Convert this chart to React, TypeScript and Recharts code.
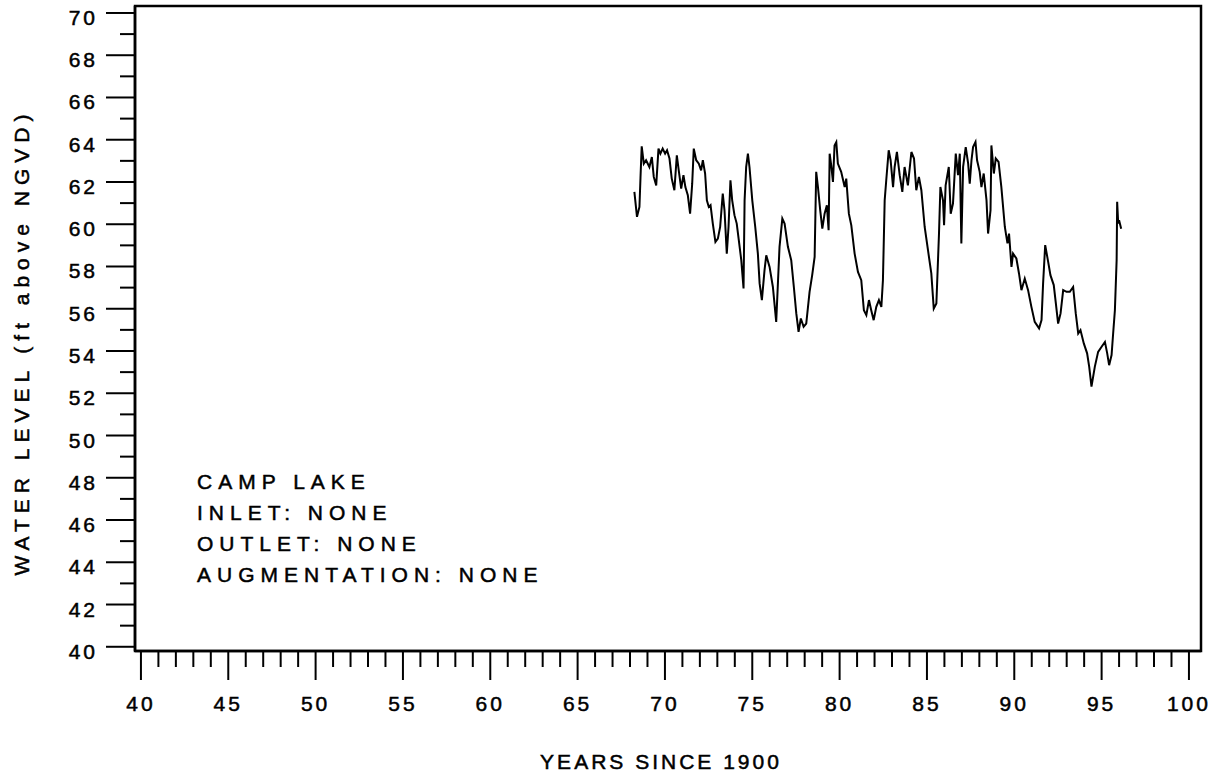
import React from "react";
import { LineChart, Line, XAxis, YAxis, ReferenceArea } from "recharts";

const YEARS = [
  68.25, 68.4, 68.54, 68.6, 68.67, 68.79, 68.92, 69.11, 69.25, 69.36, 69.5, 69.63, 69.74, 69.87,
  70.01, 70.12, 70.26, 70.39, 70.54, 70.68, 70.79, 70.93, 71.06, 71.17, 71.31, 71.44, 71.56, 71.65,
  71.79, 71.94, 72.07, 72.17, 72.3, 72.4, 72.51, 72.61, 72.74, 72.89, 73.03, 73.16, 73.31, 73.41,
  73.54, 73.64, 73.75, 73.85, 73.98, 74.11, 74.23, 74.37, 74.5, 74.56, 74.65, 74.75, 74.84, 75.0,
  75.17, 75.32, 75.42, 75.55, 75.7, 75.8, 75.99, 76.18, 76.37, 76.56, 76.72, 76.85, 77.04, 77.23,
  77.38, 77.52, 77.65, 77.78, 77.94, 78.09, 78.28, 78.43, 78.57, 78.66, 78.76, 78.89, 79.01, 79.14,
  79.27, 79.37, 79.43, 79.52, 79.62, 79.71, 79.81, 79.9, 80.09, 80.29, 80.38, 80.53, 80.67, 80.86,
  81.05, 81.24, 81.39, 81.53, 81.68, 81.81, 81.95, 82.1, 82.25, 82.39, 82.48, 82.58, 82.67, 82.81,
  82.92, 83.06, 83.15, 83.28, 83.44, 83.59, 83.72, 83.91, 84.11, 84.26, 84.39, 84.54, 84.68, 84.87,
  85.06, 85.25, 85.39, 85.54, 85.69, 85.77, 85.92, 85.98, 86.07, 86.25, 86.36, 86.49, 86.65, 86.78,
  86.88, 86.97, 87.07, 87.22, 87.36, 87.45, 87.55, 87.64, 87.78, 87.87, 88.02, 88.12, 88.25, 88.41,
  88.5, 88.64, 88.69, 88.83, 88.94, 89.1, 89.26, 89.46, 89.61, 89.7, 89.84, 89.93, 90.12, 90.27,
  90.41, 90.6, 90.79, 90.98, 91.17, 91.42, 91.56, 91.65, 91.77, 91.94, 92.07, 92.26, 92.38, 92.51,
  92.65, 92.8, 92.99, 93.18, 93.37, 93.52, 93.66, 93.79, 93.98, 94.17, 94.29, 94.42, 94.61, 94.8,
  95.0, 95.19, 95.32, 95.43, 95.57, 95.66, 95.76, 95.86, 95.89, 95.95, 96.0, 96.12,
];
const LEVELS = [
  61.53, 60.35, 60.82, 62.2, 63.69, 62.87, 63.03, 62.71, 63.18, 62.24, 61.84, 63.58, 63.34, 63.58,
  63.34, 63.5, 63.11, 62.16, 61.61, 63.26, 62.55, 61.69, 62.32, 61.76, 61.37, 60.5, 61.92, 63.58,
  63.03, 62.87, 62.55, 63.03, 62.4, 61.13, 60.82, 60.9, 60.03, 59.16, 59.32, 59.87, 61.45, 60.66,
  58.61, 59.87, 62.08, 61.13, 60.43, 60.03, 59.24, 58.3, 56.96, 61.13, 62.71, 63.34, 62.71, 61.13,
  59.87, 58.61, 57.2, 56.41, 57.82, 58.53, 57.98, 57.03, 55.38, 58.93, 60.27, 60.03, 58.93, 58.3,
  57.03, 55.78, 54.91, 55.54, 55.15, 55.3, 56.8, 57.59, 58.45, 62.48, 61.76, 60.66, 59.79, 60.5,
  60.9, 59.72, 63.34, 62.79, 62.0, 63.73, 63.89, 62.87, 62.48, 61.76, 62.16, 60.5, 59.95, 58.61,
  57.74, 57.35, 55.93, 55.7, 56.41, 55.93, 55.46, 56.09, 56.41, 56.09, 57.35, 61.13, 62.08, 63.5,
  63.03, 61.76, 62.71, 63.42, 62.32, 61.53, 62.71, 61.84, 63.42, 63.11, 61.61, 62.24, 61.61, 59.87,
  58.77, 57.67, 56.01, 56.25, 59.56, 61.76, 61.13, 59.95, 61.84, 62.71, 60.5, 60.98, 63.34, 62.32,
  63.34, 59.09, 62.71, 63.65, 62.87, 61.92, 63.03, 63.65, 63.89, 63.03, 62.48, 61.76, 62.4, 61.13,
  59.56, 60.66, 63.73, 62.4, 63.11, 62.95, 61.76, 59.87, 59.09, 59.56, 57.98, 58.61, 58.38, 57.67,
  56.88, 57.43, 56.88, 56.09, 55.38, 55.07, 55.46, 57.2, 59.01, 58.22, 57.59, 57.12, 56.25, 55.3,
  55.78, 56.88, 56.8, 56.8, 57.03, 55.78, 54.83, 54.99, 54.36, 53.89, 53.25, 52.31, 53.25, 53.96,
  54.2, 54.43, 53.89, 53.33, 53.81, 54.83, 55.93, 58.3, 61.06, 60.03, 60.19, 59.79,
];

const X_TICKS = Array.from({ length: 61 }, (_, i) => 40 + i);
const Y_TICKS = Array.from({ length: 31 }, (_, i) => 40 + i);
const X_DOMAIN = [39.66, 100.69];
const Y_DOMAIN = [39.8, 70.33];
const NOTES = ["CAMP LAKE", "INLET: NONE", "OUTLET: NONE", "AUGMENTATION: NONE"];

const FONT = "'Liberation Sans', Arial, Helvetica, sans-serif";
const THICK = { WebkitTextStroke: "0.5px #000" } as React.CSSProperties;

const data = YEARS.map((y, i) => ({ year: y, level: LEVELS[i] }));

function XTick(props: any) {
  const { x, y, payload } = props;
  const major = payload.value % 5 === 0;
  return (
    <g>
      <line x1={x} y1={y} x2={x} y2={y + (major ? 29 : 16)} stroke="#000" strokeWidth={2} />
      {major && (
        <text x={x} y={y + 60} textAnchor="middle" fontSize={21} letterSpacing={3}
          fontFamily={FONT} fill="#000" stroke="#000" strokeWidth={0.5}>
          {payload.value}
        </text>
      )}
    </g>
  );
}

function YTick(props: any) {
  const { x, y, payload } = props;
  const major = payload.value % 2 === 0;
  return (
    <g>
      <line x1={x - (major ? 29 : 15)} y1={y} x2={x} y2={y} stroke="#000" strokeWidth={2} />
      {major && (
        <text x={x - 37} y={y + 12} textAnchor="end" fontSize={21} letterSpacing={3}
          fontFamily={FONT} fill="#000" stroke="#000" strokeWidth={0.5}>
          {payload.value}
        </text>
      )}
    </g>
  );
}

export default function App() {
  return (
    <div style={{ position: "absolute", left: 0, top: 0, width: 1222, height: 777, background: "#fff", fontFamily: FONT, color: "#000" }}>
      <LineChart width={1222} height={777} data={data} margin={{ top: 6, right: 21, bottom: 0, left: 0 }}>
        <XAxis dataKey="year" type="number" domain={X_DOMAIN} ticks={X_TICKS} interval={0}
          allowDataOverflow height={126} tickSize={0} tickMargin={0} tickLine={false}
          axisLine={{ stroke: "#000", strokeWidth: 2.5 }} tick={<XTick />} />
        <YAxis type="number" domain={Y_DOMAIN} ticks={Y_TICKS} interval={0}
          allowDataOverflow width={135} tickSize={0} tickMargin={0} tickLine={false}
          axisLine={{ stroke: "#000", strokeWidth: 2.5 }} tick={<YTick />} />
        <ReferenceArea x1={X_DOMAIN[0]} x2={X_DOMAIN[1]} y1={Y_DOMAIN[0]} y2={Y_DOMAIN[1]}
          fill="none" stroke="#000" strokeWidth={2.5} />
        <Line dataKey="level" type="linear" stroke="#000" strokeWidth={2} dot={false}
          isAnimationActive={false} />
      </LineChart>
      <div style={{ position: "absolute", left: 197, top: 466, fontSize: 21, letterSpacing: 6, lineHeight: "31px", ...THICK }}>
        {NOTES.map(n => <div key={n}>{n}</div>)}
      </div>
      <div style={{ position: "absolute", left: 661, top: 750, transform: "translateX(-50%)", fontSize: 21, letterSpacing: 3, whiteSpace: "nowrap", ...THICK }}>
        YEARS SINCE 1900
      </div>
      <div style={{ position: "absolute", left: 22, top: 342, transform: "translate(-50%, -50%) rotate(-90deg)", fontSize: 21, letterSpacing: 6, whiteSpace: "nowrap", ...THICK }}>
        WATER LEVEL (ft above NGVD)
      </div>
    </div>
  );
}
